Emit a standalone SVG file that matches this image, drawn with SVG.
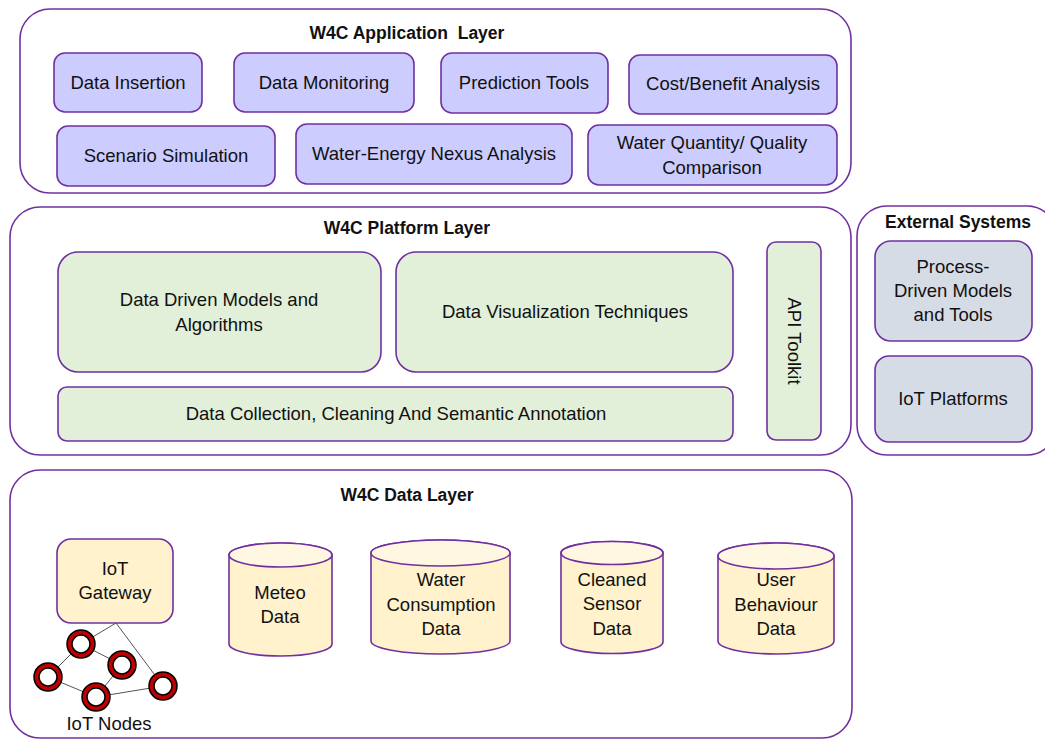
<svg xmlns="http://www.w3.org/2000/svg" width="1045" height="740" viewBox="0 0 1045 740">
<style>
text{font-family:"Liberation Sans",Arial,sans-serif;font-size:18.5px;fill:#111;text-anchor:middle}
.h{font-weight:bold;font-size:17.5px}
.layer{fill:#fff;stroke:#7030A0;stroke-width:1.6}
.app{fill:#CCCCFF;stroke:#7030A0;stroke-width:1.6}
.plat{fill:#E2EFD9;stroke:#7030A0;stroke-width:1.6}
.ext{fill:#D6DCE5;stroke:#7030A0;stroke-width:1.6}
.dat{fill:#FFF2CC;stroke:#7030A0;stroke-width:1.6}
.top{fill:#FFF7E1;stroke:#7030A0;stroke-width:1.6}
.lnk{stroke:#555;stroke-width:1;fill:none}
.nodeo{fill:#fff;stroke:#000;stroke-width:6.5}
.nodei{fill:none;stroke:#C00000;stroke-width:3.5}
</style>
<rect width="1045" height="740" fill="#fff"/>

<g id="application-layer">
<rect class="layer" x="20" y="9" width="831" height="184" rx="30"/>
<text class="h" x="407" y="39" xml:space="preserve">W4C Application  Layer</text>
</g>
<g id="data-insertion"><rect class="app" x="54" y="53" width="148" height="59" rx="11"/><text x="128" y="89">Data Insertion</text></g>
<g id="data-monitoring"><rect class="app" x="234" y="53" width="180" height="59" rx="11"/><text x="324" y="89">Data Monitoring</text></g>
<g id="prediction-tools"><rect class="app" x="441" y="53" width="167" height="60" rx="11"/><text x="524" y="89">Prediction Tools</text></g>
<g id="cost-benefit"><rect class="app" x="629" y="55" width="208" height="59" rx="11"/><text x="733" y="90">Cost/Benefit Analysis</text></g>
<g id="scenario-simulation"><rect class="app" x="57" y="126" width="218" height="60" rx="11"/><text x="166" y="162">Scenario Simulation</text></g>
<g id="water-energy"><rect class="app" x="296" y="124" width="276" height="60" rx="11"/><text x="434" y="160">Water-Energy Nexus Analysis</text></g>
<g id="water-quantity"><rect class="app" x="588" y="125" width="249" height="60" rx="11"/><text x="712" y="149">Water Quantity/ Quality</text><text x="712" y="174">Comparison</text></g>

<g id="platform-layer">
<rect class="layer" x="10" y="207" width="841" height="248" rx="30"/>
<text class="h" x="407" y="234">W4C Platform Layer</text>
</g>
<g id="data-driven-models"><rect class="plat" x="58" y="252" width="323" height="120" rx="20"/><text x="219" y="306">Data Driven Models and</text><text x="219" y="331">Algorithms</text></g>
<g id="data-visualization"><rect class="plat" x="396" y="252" width="337" height="120" rx="20"/><text x="565" y="318">Data Visualization Techniques</text></g>
<g id="data-collection"><rect class="plat" x="58" y="387" width="675" height="54" rx="9"/><text x="396" y="420">Data Collection, Cleaning And Semantic Annotation</text></g>
<g id="api-toolkit"><rect class="plat" x="767" y="242" width="54" height="198" rx="9"/><text transform="translate(788 341) rotate(90)" x="0" y="0">API Toolkit</text></g>

<g id="external-systems">
<rect class="layer" x="857" y="206" width="200" height="249" rx="30"/>
<text class="h" x="958" y="228">External Systems</text>
</g>
<g id="process-driven"><rect class="ext" x="875" y="241" width="157" height="100" rx="16"/><text x="953" y="273">Process-</text><text x="953" y="297">Driven Models</text><text x="953" y="321">and Tools</text></g>
<g id="iot-platforms"><rect class="ext" x="875" y="356" width="157" height="86" rx="14"/><text x="953" y="405">IoT Platforms</text></g>

<g id="data-layer">
<rect class="layer" x="10" y="470" width="842" height="268" rx="30"/>
<text class="h" x="407" y="501">W4C Data Layer</text>
</g>
<g id="iot-gateway"><rect class="dat" x="57" y="539" width="116" height="84" rx="14"/><text x="115" y="575">IoT</text><text x="115" y="599">Gateway</text></g>

<g id="connectors">
<line class="lnk" x1="116" y1="623" x2="81" y2="644"/>
<line class="lnk" x1="116" y1="623" x2="163" y2="686"/>
<line class="lnk" x1="81" y1="644" x2="122" y2="665"/>
<line class="lnk" x1="81" y1="644" x2="48" y2="677"/>
<line class="lnk" x1="122" y1="665" x2="96" y2="697"/>
<line class="lnk" x1="48" y1="677" x2="96" y2="697"/>
<line class="lnk" x1="96" y1="697" x2="163" y2="686"/>
</g>

<g id="iot-nodes">
<circle class="nodeo" cx="81" cy="644" r="11.5"/><circle class="nodei" cx="81" cy="644" r="11.5"/>
<circle class="nodeo" cx="122" cy="665" r="11.5"/><circle class="nodei" cx="122" cy="665" r="11.5"/>
<circle class="nodeo" cx="48" cy="677" r="11.5"/><circle class="nodei" cx="48" cy="677" r="11.5"/>
<circle class="nodeo" cx="96" cy="697" r="11.5"/><circle class="nodei" cx="96" cy="697" r="11.5"/>
<circle class="nodeo" cx="163" cy="686" r="11.5"/><circle class="nodei" cx="163" cy="686" r="11.5"/>
<text x="109" y="730">IoT Nodes</text>
</g>

<g id="meteo-data">
<path class="dat" d="M229,555 A51.5,12 0 0 1 332,555 V644 A51.5,12 0 0 1 229,644 Z"/>
<ellipse class="top" cx="280.5" cy="555" rx="51.5" ry="12"/>
<text x="280" y="599">Meteo</text><text x="280" y="623">Data</text>
</g>
<g id="water-consumption-data">
<path class="dat" d="M371,553 A69.5,13 0 0 1 510,553 V641 A69.5,13 0 0 1 371,641 Z"/>
<ellipse class="top" cx="440.5" cy="553" rx="69.5" ry="13"/>
<text x="441" y="586">Water</text><text x="441" y="611">Consumption</text><text x="441" y="635">Data</text>
</g>
<g id="cleaned-sensor-data">
<path class="dat" d="M561,553 A51,11.5 0 0 1 663,553 V642 A51,11.5 0 0 1 561,642 Z"/>
<ellipse class="top" cx="612" cy="553" rx="51" ry="11.5"/>
<text x="612" y="586">Cleaned</text><text x="612" y="610">Sensor</text><text x="612" y="635">Data</text>
</g>
<g id="user-behaviour-data">
<path class="dat" d="M718,556 A58,13 0 0 1 834,556 V641 A58,13 0 0 1 718,641 Z"/>
<ellipse class="top" cx="776" cy="556" rx="58" ry="13"/>
<text x="776" y="586">User</text><text x="776" y="611">Behaviour</text><text x="776" y="635">Data</text>
</g>
</svg>
